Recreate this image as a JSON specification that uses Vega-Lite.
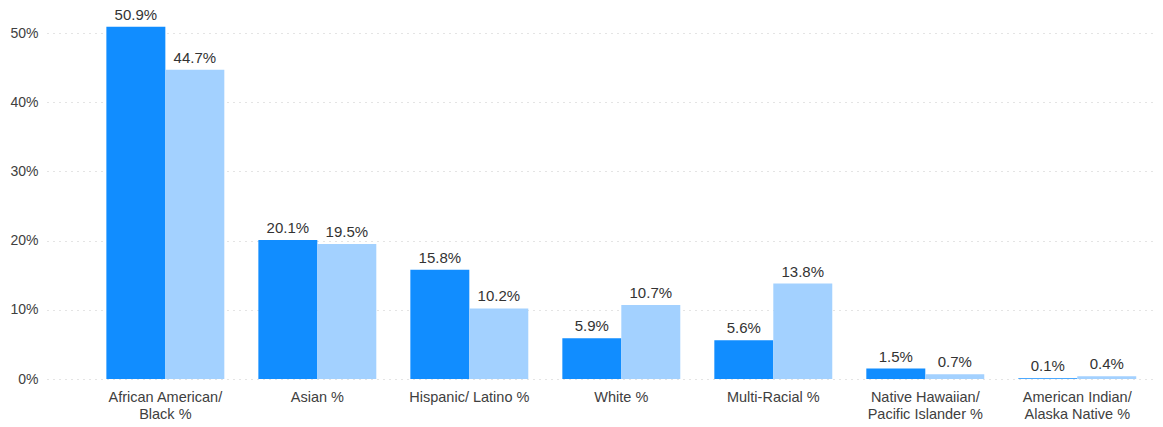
{
  "$schema": "https://vega.github.io/schema/vega-lite/v6.json",
  "width": 1108,
  "height": 379,
  "autosize": {"type": "none"},
  "padding": {"left": 47, "top": 0, "right": 8, "bottom": 48},
  "config": {
    "view": {"stroke": null},
    "font": "Liberation Sans"
  },
  "data": {
    "values": [
      {"category": "African American/ Black %", "series": "Series 1", "value": 0.509},
      {"category": "African American/ Black %", "series": "Series 2", "value": 0.447},
      {"category": "Asian %", "series": "Series 1", "value": 0.201},
      {"category": "Asian %", "series": "Series 2", "value": 0.195},
      {"category": "Hispanic/ Latino %", "series": "Series 1", "value": 0.158},
      {"category": "Hispanic/ Latino %", "series": "Series 2", "value": 0.102},
      {"category": "White %", "series": "Series 1", "value": 0.059},
      {"category": "White %", "series": "Series 2", "value": 0.107},
      {"category": "Multi-Racial %", "series": "Series 1", "value": 0.056},
      {"category": "Multi-Racial %", "series": "Series 2", "value": 0.138},
      {"category": "Native Hawaiian/ Pacific Islander %", "series": "Series 1", "value": 0.015},
      {"category": "Native Hawaiian/ Pacific Islander %", "series": "Series 2", "value": 0.007},
      {"category": "American Indian/ Alaska Native %", "series": "Series 1", "value": 0.001},
      {"category": "American Indian/ Alaska Native %", "series": "Series 2", "value": 0.004}
    ]
  },
  "encoding": {
    "x": {
      "field": "category",
      "type": "nominal",
      "sort": null,
      "scale": {"paddingInner": 0.224, "paddingOuter": 0.257, "align": 0.76},
      "axis": {
        "title": null,
        "labelAngle": 0,
        "domain": false,
        "ticks": false,
        "labelPadding": 11,
        "labelFontSize": 14.5,
        "labelColor": "#404040",
        "labelLineHeight": 17,
        "labelLimit": 220,
        "labelExpr": "datum.label == 'African American/ Black %' ? ['African American/', 'Black %'] : datum.label == 'Native Hawaiian/ Pacific Islander %' ? ['Native Hawaiian/', 'Pacific Islander %'] : datum.label == 'American Indian/ Alaska Native %' ? ['American Indian/', 'Alaska Native %'] : datum.label"
      }
    },
    "xOffset": {"field": "series", "type": "nominal", "scale": {"paddingInner": 0, "paddingOuter": 0}},
    "y": {
      "field": "value",
      "type": "quantitative",
      "scale": {"domain": [0, 0.5477], "nice": false},
      "axis": {
        "title": null,
        "values": [0, 0.1, 0.2, 0.3, 0.4, 0.5],
        "format": ".0%",
        "domain": false,
        "ticks": false,
        "labelPadding": 9,
        "labelFontSize": 14,
        "labelColor": "#404040",
        "gridColor": "#C8C8C8",
        "gridDash": [1, 5],
        "gridWidth": 1
      }
    }
  },
  "layer": [
    {
      "mark": {"type": "bar"},
      "encoding": {
        "color": {
          "field": "series",
          "type": "nominal",
          "scale": {"range": ["#118DFF", "#A3D1FF"]},
          "legend": null
        }
      }
    },
    {
      "mark": {"type": "text", "baseline": "alphabetic", "dy": -7, "fontSize": 15, "color": "#333333"},
      "encoding": {
        "text": {"field": "value", "type": "quantitative", "format": ".1%"}
      }
    }
  ]
}
